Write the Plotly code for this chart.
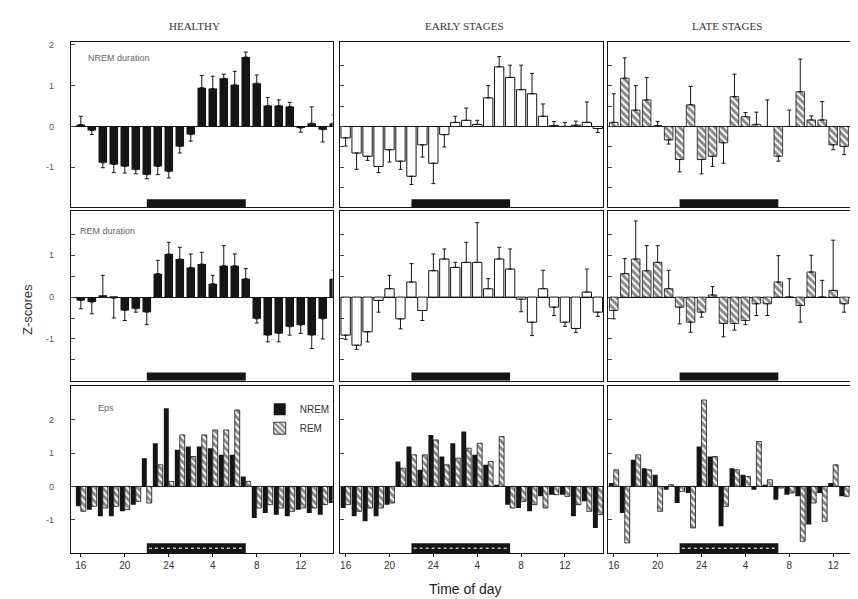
import plotly.graph_objects as go

W, H = 858, 599

# ---------------- data ----------------
hours = list(range(16, 40))
tick_vals = [16, 20, 24, 28, 32, 36]
tick_text = ["16", "20", "24", "4", "8", "12"]
dark_start, dark_end = 22, 31

col_titles = ["HEALTHY", "EARLY STAGES", "LATE STAGES"]
row_labels = ["NREM duration", "REM duration", "Eps"]

# row 1
healthy_r1 = [0.05, -0.1, -0.89, -0.93, -0.98, -1.06, -1.18, -0.98, -1.1, -0.49, -0.2, 0.95,
              0.93, 1.18, 1.02, 1.7, 1.06, 0.51, 0.51, 0.49, -0.04, 0.08, -0.08, 0.08]
healthy_r1_err = [0.2, 0.1, 0.12, 0.2, 0.16, 0.1, 0.1, 0.2, 0.16, 0.16, 0.16, 0.3,
                  0.3, 0.1, 0.33, 0.12, 0.2, 0.2, 0.14, 0.1, 0.1, 0.4, 0.3, 0.2]
early_r1 = [-0.28, -0.65, -0.73, -0.98, -0.57, -0.85, -1.22, -0.45, -0.9, -0.2, 0.1, 0.15,
            0.05, 0.7, 1.46, 1.2, 0.9, 0.8, 0.25, 0.02, 0.0, 0.03, 0.1, -0.05]
early_r1_err = [0.2, 0.4, 0.1, 0.15, 0.3, 0.2, 0.2, 0.3, 0.5, 0.3, 0.15, 0.3,
                0.1, 0.3, 0.25, 0.3, 0.6, 0.5, 0.3, 0.1, 0.1, 0.1, 0.5, 0.1]
late_r1 = [0.1, 1.18, 0.4, 0.65, 0.02, -0.33, -0.81, 0.53, -0.81, -0.73, -0.4, 0.73,
           0.24, 0.05, 0.0, -0.73, 0.0, 0.85, 0.16, 0.16, -0.45, -0.49, -0.2, 0.1]
late_r1_err = [0.7, 0.5, 0.6, 0.55, 0.1, 0.1, 0.3, 0.45, 0.35, 0.25, 0.5, 0.55,
               0.1, 0.3, 0.65, 0.12, 0.4, 0.8, 0.1, 0.45, 0.12, 0.2, 0.1, 0.5]

# row 2
healthy_r2 = [-0.08, -0.12, 0.02, -0.02, -0.32, -0.28, -0.36, 0.56, 1.03, 0.91, 0.71, 0.79,
              0.32, 0.75, 0.75, 0.44, -0.52, -0.91, -0.87, -0.71, -0.67, -0.91, -0.52, 0.44]
healthy_r2_err = [0.2, 0.28, 0.5, 0.48, 0.24, 0.08, 0.3, 0.32, 0.28, 0.28, 0.32, 0.28,
                  0.2, 0.48, 0.28, 0.24, 0.1, 0.16, 0.2, 0.2, 0.2, 0.32, 0.48, 0.2]
early_r2 = [-0.91, -1.15, -0.83, -0.08, 0.2, -0.52, 0.36, -0.32, 0.63, 0.91, 0.71, 0.83,
            0.83, 0.2, 0.91, 0.67, -0.05, -0.6, 0.2, -0.24, -0.6, -0.75, 0.12, -0.36]
early_r2_err = [0.1, 0.1, 0.24, 0.28, 0.32, 0.24, 0.44, 0.24, 0.4, 0.24, 0.12, 0.48,
                0.95, 0.24, 0.28, 0.48, 0.3, 0.32, 0.44, 0.2, 0.1, 0.1, 0.55, 0.1]
late_r2 = [-0.32, 0.56, 0.91, 0.63, 0.83, 0.2, -0.24, -0.6, -0.36, 0.05, -0.63, -0.63,
           -0.56, -0.16, -0.16, 0.36, 0.0, -0.2, 0.6, 0.0, 0.16, -0.16, 0.0, -0.05]
late_r2_err = [0.2, 0.36, 0.91, 0.6, 0.4, 0.44, 0.4, 0.24, 0.12, 0.2, 0.32, 0.16,
               0.1, 0.28, 0.28, 0.63, 0.44, 0.4, 0.4, 0.4, 1.2, 0.2, 0.48, 0.1]

# row 3 (NREM black, REM hatched)
healthy_nrem = [-0.6, -0.7, -0.9, -0.9, -0.75, -0.55, 0.85, 1.3, 2.35, 1.1, 1.2, 1.2,
                1.15, 0.95, 0.95, 0.3, -0.95, -0.8, -0.85, -0.9, -0.7, -0.8, -0.85, -0.5]
healthy_rem = [-0.75, -0.6, -0.65, -0.6, -0.7, -0.45, -0.5, 0.65, 0.15, 1.55, 0.9, 1.55,
               1.7, 1.7, 2.3, 0.15, -0.65, -0.55, -0.65, -0.75, -0.65, -0.65, -0.55, -0.6]
early_nrem = [-0.65, -0.9, -1.05, -0.9, -0.55, 0.75, 1.2, 0.5, 1.55, 0.9, 1.3, 1.65,
              0.95, 0.65, 0.05, -0.55, -0.65, -0.75, -0.3, -0.25, -0.25, -0.9, -0.45, -1.25]
early_rem = [-0.55, -0.75, -0.65, -0.65, -0.5, 0.55, 0.95, 0.95, 1.4, 0.65, 0.85, 1.15,
             1.3, 0.75, 1.5, -0.65, -0.45, -0.55, -0.65, -0.25, -0.3, -0.55, -0.75, -0.85]
late_nrem = [0.1, -0.8, 0.8, 0.55, 0.35, -0.1, -0.5, -0.2, 1.2, 0.9, -1.2, 0.55,
             0.35, -0.1, 0.05, -0.4, -0.25, -0.3, -1.15, -0.2, 0.1, -0.3, -0.45, -0.05]
late_rem = [0.5, -1.7, 0.95, 0.5, -0.75, 0.05, -0.15, -1.25, 2.6, 0.9, -0.6, 0.5,
            0.3, 1.35, 0.2, -0.05, -0.2, -1.65, -0.5, -1.05, 0.65, -0.3, -0.75, -0.05]

# ---------------- layout geometry ----------------
col_px = [(63, 325), (332, 596), (601, 858)]
row_px = [(32, 198), (202, 372), (377, 545)]
x_ranges = [(15.1, 38.9), (15.45, 39.5), (15.5, 38.9)]
y_ranges = [(-1.98, 2.07), (-2.0, 2.05), (-2.01, 3.03)]
dark_heights = [0.2, 0.2, 0.3]

INK = "#151515"
FONT = "Liberation Sans, Arial, sans-serif"

fig = go.Figure()


def ax_id(r, c):
    return r * 3 + c + 1


def one_sided(vals, errs):
    plus = [e if v >= 0 else 0 for v, e in zip(vals, errs)]
    minus = [e if v < 0 else 0 for v, e in zip(vals, errs)]
    return plus, minus


HATCH = dict(shape="\\", fgcolor=INK, bgcolor="white", size=5, solidity=0.6)

styles = [
    dict(marker=dict(color=INK, line=dict(width=0))),
    dict(marker=dict(color="white", line=dict(color=INK, width=1))),
    dict(marker=dict(color="white", line=dict(color=INK, width=0.8), pattern=HATCH)),
]

top_rows = [
    [(healthy_r1, healthy_r1_err), (early_r1, early_r1_err), (late_r1, late_r1_err)],
    [(healthy_r2, healthy_r2_err), (early_r2, early_r2_err), (late_r2, late_r2_err)],
]

for r in range(2):
    for c in range(3):
        vals, errs = top_rows[r][c]
        k = ax_id(r, c)
        plus, minus = one_sided(vals, errs)
        fig.add_trace(go.Bar(
            x=hours, y=vals, width=0.78 if c != 1 else 0.85,
            xaxis=f"x{k}", yaxis=f"y{k}", showlegend=False,
            error_y=dict(type="data", symmetric=False, array=plus, arrayminus=minus,
                         color=INK, thickness=1, width=2),
            **styles[c]))

row3 = [(healthy_nrem, healthy_rem), (early_nrem, early_rem), (late_nrem, late_rem)]
for c in range(3):
    k = ax_id(2, c)
    nrem, rem = row3[c]
    fig.add_trace(go.Bar(
        x=hours, y=nrem, width=0.45, offset=-0.45, name="NREM",
        xaxis=f"x{k}", yaxis=f"y{k}", showlegend=(c == 0),
        marker=dict(color=INK, line=dict(width=0))))
    fig.add_trace(go.Bar(
        x=hours, y=rem, width=0.45, offset=0.0, name="REM",
        xaxis=f"x{k}", yaxis=f"y{k}", showlegend=(c == 0),
        marker=dict(color="white", line=dict(color=INK, width=0.8), pattern=HATCH)))

layout = dict(
    width=W, height=H, margin=dict(l=0, r=0, t=0, b=0),
    paper_bgcolor="white", plot_bgcolor="white",
    barmode="overlay", font=dict(family=FONT, color=INK, size=10),
    legend=dict(x=252 / W, y=1 - 386 / H, xanchor="left", yanchor="top",
                bgcolor="rgba(0,0,0,0)", font=dict(size=10, color="#333"),
                itemwidth=30, tracegroupgap=4),
)

shapes = []
annotations = []
for r in range(3):
    for c in range(3):
        k = ax_id(r, c)
        x0, x1 = col_px[c]
        y0, y1 = row_px[r]
        xa = dict(
            domain=[x0 / W, x1 / W], range=list(x_ranges[c]), anchor=f"y{k}",
            showline=True, mirror=True, linecolor=INK, linewidth=1.2,
            showgrid=False, zeroline=False,
            tickmode="array", tickvals=tick_vals,
            ticktext=tick_text if r == 2 else [""] * len(tick_vals),
            ticks="outside" if r == 2 else "", ticklen=3, tickcolor=INK,
            tickfont=dict(size=10, color="#333"),
        )
        ylo, yhi = y_ranges[r]
        if r == 0:
            yt = [-1, 0, 1, 2] if c == 0 else [-1.5, -1, -0.5, 0, 0.5, 1, 1.5]
        elif r == 1:
            yt = [-1.5, -1, -0.5, 0, 0.5, 1, 1.5]
        else:
            yt = [-1, 0, 1, 2]
        if c == 0:
            ytxt = [str(int(v)) if float(v).is_integer() else "" for v in yt]
        else:
            ytxt = [""] * len(yt)
        ya = dict(
            domain=[1 - y1 / H, 1 - y0 / H], range=[ylo, yhi], anchor=f"x{k}",
            showline=True, mirror=True, linecolor=INK, linewidth=1.2,
            showgrid=False, zeroline=True, zerolinecolor=INK, zerolinewidth=1,
            tickmode="array", tickvals=yt, ticktext=ytxt,
            ticks="inside", ticklen=4, tickcolor="#444",
            tickfont=dict(size=9, color="#555"), ticklabelstandoff=14,
        )
        layout[f"xaxis{k}"] = xa
        layout[f"yaxis{k}"] = ya
        # dark-period bar
        shapes.append(dict(type="rect", xref=f"x{k}", yref=f"y{k}",
                           x0=dark_start, x1=dark_end, y0=ylo, y1=ylo + dark_heights[r],
                           fillcolor=INK, line=dict(width=0), layer="above"))
        if r == 2:
            ym = ylo + dark_heights[r] / 2
            shapes.append(dict(type="line", xref=f"x{k}", yref=f"y{k}",
                               x0=dark_start + 0.2, x1=dark_end - 0.2, y0=ym, y1=ym,
                               line=dict(color="#bbbbbb", width=1.5, dash="dot"),
                               layer="above"))

# column titles
title_x = [187, 457, 720]
for c, t in enumerate(col_titles):
    annotations.append(dict(text=t, x=title_x[c] / W, y=1 - 16 / H, xref="paper",
                            yref="paper", showarrow=False,
                            font=dict(size=11, color="#333",
                                      family="Liberation Serif, Times New Roman, serif"),
                            xanchor="center", yanchor="middle"))

# row labels inside healthy panels
label_pos = [(78, 48), (70, 222), (88, 399)]
for r, t in enumerate(row_labels):
    px, py = label_pos[r]
    annotations.append(dict(text=t, x=px / W, y=1 - py / H, xref="paper", yref="paper",
                            showarrow=False, font=dict(size=9, color="#666"),
                            xanchor="left", yanchor="middle"))

annotations.append(dict(text="Z-scores", x=20 / W, y=1 - 300 / H, xref="paper", yref="paper",
                        showarrow=False, textangle=-90, font=dict(size=13, color="#333"),
                        xanchor="center", yanchor="middle"))
annotations.append(dict(text="Time of day", x=458 / W, y=1 - 581 / H, xref="paper",
                        yref="paper", showarrow=False, font=dict(size=14, color="#222"),
                        xanchor="center", yanchor="middle"))

layout["shapes"] = shapes
layout["annotations"] = annotations
fig.update_layout(**layout)

fig.write_html("out.html")
